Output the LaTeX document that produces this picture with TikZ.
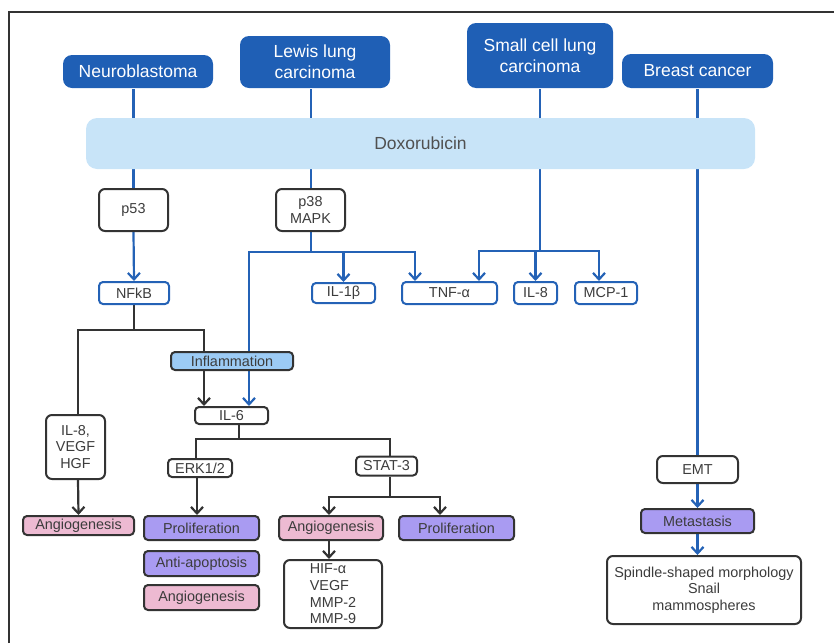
\documentclass[tikz,border=0pt]{standalone}
\usepackage{fontspec}
\setmainfont{Liberation Sans}
\usetikzlibrary{arrows.meta,positioning,backgrounds}

\definecolor{cancerblue}{HTML}{1F5FB5}
\definecolor{linkblue}{HTML}{2462B6}
\definecolor{drugblue}{HTML}{C8E4F8}
\definecolor{inflblue}{HTML}{9CCBF5}
\definecolor{prolpurple}{HTML}{A99BF2}
\definecolor{angiopink}{HTML}{EDBAD2}
\definecolor{boxline}{HTML}{333333}
\definecolor{textgray}{HTML}{3C3C3C}

\begin{document}
\begin{tikzpicture}[x=1pt,y=-1pt,>={Straight Barb[length=6.5pt,width=12pt]},line width=2pt,
  cancer/.style={fill=cancerblue,text=white,rounded corners=9pt,inner sep=0pt,
    align=center,font=\fontsize{17.5}{21}\selectfont},
  factor/.style={draw=boxline,fill=white,rounded corners=6pt,inner sep=0pt,
    align=center,text=textgray,font=\fontsize{14.4}{16.7}\selectfont},
  marker/.style={factor,draw=linkblue,rounded corners=4pt},
  effect/.style={factor,rounded corners=4pt},
  blueline/.style={draw=linkblue,line width=2.2pt},
  blackline/.style={draw=boxline,line width=2.2pt}]
  \useasboundingbox (0,0) rectangle (834,643);
  \draw[line width=1.3pt,boxline] (9,643) -- (9,12) -- (834,12);

  % cancers and drug
  \node[cancer,minimum width=150pt,minimum height=33pt] (neuro)  at (138,71.5) {Neuroblastoma};
  \node[cancer,minimum width=150pt,minimum height=52pt] (lewis)  at (315,62)   {Lewis lung\\carcinoma};
  \node[cancer,minimum width=146pt,minimum height=65pt] (sclc)   at (540,55.5) {Small cell lung\\carcinoma};
  \node[cancer,minimum width=151pt,minimum height=34pt] (breast) at (697.5,71) {Breast cancer};
  \node[fill=drugblue,rounded corners=11pt,minimum width=669pt,minimum height=51pt,text=textgray!90,
    font=\fontsize{17.5}{21}\selectfont] (dox) at (420.5,143.5) {Doxorubicin};

  % signalling
  \node[factor,minimum width=69pt,minimum height=42pt] (p53) at (133.5,210) {p53};
  \node[factor,minimum width=69pt,minimum height=42pt] (p38) at (310.5,210) {p38\\MAPK};
  \node[marker,minimum width=70pt,minimum height=22pt] (nfkb) at (134,293)   {NFkB};
  \node[marker,minimum width=63pt,minimum height=20pt] (il1b) at (343.5,293) {IL-1β};
  \node[marker,minimum width=95pt,minimum height=22pt] (tnf)  at (449.5,293) {TNF-α};
  \node[marker,minimum width=43pt,minimum height=22pt] (il8)  at (535.5,293) {IL-8};
  \node[marker,minimum width=62pt,minimum height=22pt] (mcp)  at (606,293)   {MCP-1};
  \node[effect,fill=inflblue,minimum width=122pt,minimum height=18pt] (infl) at (232,361) {Inflammation};
  \node[effect,minimum width=73pt,minimum height=17pt] (il6)  at (231.5,415.5) {IL-6};
  \node[factor,minimum width=59pt,minimum height=64pt] (growth) at (75.5,447) {IL-8,\\VEGF\\HGF};
  \node[effect,minimum width=64pt,minimum height=18pt] (erk)  at (200,468)   {ERK1/2};
  \node[effect,minimum width=61pt,minimum height=19pt] (stat) at (386.5,466) {STAT-3};
  \node[factor,minimum width=81pt,minimum height=27pt] (emt)  at (697.5,469.5) {EMT};

  % outcomes
  \node[effect,fill=angiopink,minimum width=111pt,minimum height=19pt]  (angioA) at (78.5,525.5) {Angiogenesis};
  \node[effect,fill=prolpurple,minimum width=115pt,minimum height=24pt] (prolA)  at (201.5,528)  {Proliferation};
  \node[effect,fill=prolpurple,minimum width=115pt,minimum height=25pt] (antiap) at (201.5,563.5) {Anti-apoptosis};
  \node[effect,fill=angiopink,minimum width=115pt,minimum height=25pt]  (angioB) at (201.5,597.5) {Angiogenesis};
  \node[effect,fill=angiopink,minimum width=104pt,minimum height=24pt]  (angioC) at (331,528)    {Angiogenesis};
  \node[effect,fill=prolpurple,minimum width=115pt,minimum height=24pt] (prolB)  at (456.5,528)  {Proliferation};
  \node[factor,align=left,minimum width=98pt,minimum height=68pt] (hif) at (333,594)
    {HIF-α\\VEGF\\MMP-2\\MMP-9};
  \node[effect,fill=prolpurple,minimum width=113pt,minimum height=24pt] (meta) at (697.5,521) {Metastasis};
  \node[factor,minimum width=194pt,minimum height=68pt] (spindle) at (704,590)
    {Spindle-shaped morphology\\Snail\\mammospheres};

  \coordinate (j38) at (311,252);
  \coordinate (jsc) at (540,251);
  \coordinate (jnf) at (134,330);
  \coordinate (ji6) at (239,439);
  \coordinate (jst) at (390,497);

  \begin{scope}[on background layer]
    % blue links
    \draw[blueline] (p53.north |- neuro.south) -- (p53.north);
    \draw[blueline] (lewis.south -| j38) -- (p38.south -| j38) -- (j38);
    \draw[blueline] (sclc.south) -- (jsc);
    \draw[blueline] (breast.south) -- (emt.north);
    \draw[blueline,->] (p53.south) -- (nfkb.north);
    \draw[blueline,->] (j38) -| (il1b.north);
    \draw[blueline,->] (j38) -| ([xshift=-34.5pt]tnf.north);
    \draw[blueline,->] (j38) -| ([xshift=17.5pt]il6.north);
    \draw[blueline,->] (jsc) -| ([xshift=29.5pt]tnf.north);
    \draw[blueline,->] (jsc) -| (il8.north);
    \draw[blueline,->] (jsc) -| ([xshift=-7pt]mcp.north);
    \draw[blueline,->] (emt.south) -- (meta.north);
    \draw[blueline,->] (meta.south) -- (meta.south |- spindle.north);
    % black links
    \draw[blackline] (nfkb.south) -- (jnf);
    \draw[blackline] (jnf) -| ([xshift=2.5pt]growth.north);
    \draw[blackline] (jnf) -| ([xshift=-28pt]infl.north);
    \draw[blackline,->] ([xshift=-28pt]infl.south) -- ([xshift=-27.5pt]il6.north);
    \draw[blackline] (il6.south -| ji6) -- (ji6);
    \draw[blackline] (ji6) -| ([xshift=-4pt]erk.north);
    \draw[blackline] (ji6) -| ([xshift=3.5pt]stat.north);
    \draw[blackline,->] ([xshift=2.5pt]growth.south) -- (angioA.north);
    \draw[blackline,->] ([xshift=-3pt]erk.south) -- ([xshift=-4.5pt]prolA.north);
    \draw[blackline] (stat.south -| jst) -- (jst);
    \draw[blackline,->] (jst) -| ([xshift=-2pt]angioC.north);
    \draw[blackline,->] (jst) -| ([xshift=-16.5pt]prolB.north);
    \draw[blackline,->] ([xshift=-2pt]angioC.south) -- ([xshift=-4pt]hif.north);
  \end{scope}
\end{tikzpicture}
\end{document}
